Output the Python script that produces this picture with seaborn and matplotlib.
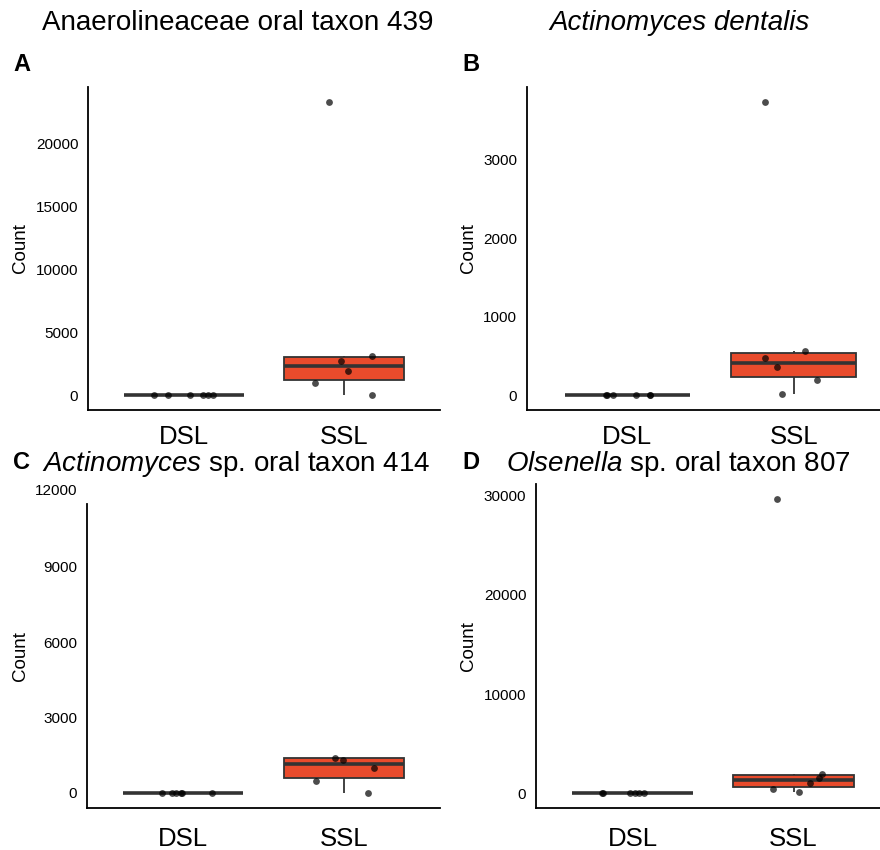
import numpy as np
import pandas as pd
import matplotlib
matplotlib.use("Agg")
import matplotlib.pyplot as plt
from matplotlib.transforms import Bbox, TransformedBbox
import seaborn as sns

# ---- data ----
groups = ["DSL", "SSL"]
letters = ["A", "B", "C", "D"]
titles = [
    "Anaerolineaceae oral taxon 439",
    "Actinomyces dentalis",
    r"$\it{Actinomyces}$ sp. oral taxon 414",
    r"$\it{Olsenella}$ sp. oral taxon 807",
]

# counts per sample
a_dsl = [0, 0, 0, 0, 0, 0]
a_ssl = [23357, 3120, 2750, 1900, 1000, 50]
b_dsl = [0, 0, 0, 0, 0, 0]
b_ssl = [3743, 567, 474, 356, 190, 16]
c_dsl = [0, 0, 0, 0, 0, 0]
c_ssl = [11960, 1395, 1303, 996, 466, 16]   # top point is cropped off in the figure
d_dsl = [0, 0, 0, 0, 0, 0]
d_ssl = [29700, 1913, 1571, 1067, 463, 100]

# horizontal jitter of each point (category units), as seen in the figure
a_dsl_jit = [-0.19, -0.10, 0.04, 0.12, 0.15, 0.18]
a_ssl_jit = [-0.095, 0.175, -0.02, 0.025, -0.18, 0.175]
b_dsl_jit = [-0.125, -0.12, -0.085, 0.055, 0.135, 0.135]
b_ssl_jit = [-0.175, 0.065, -0.17, -0.10, 0.14, -0.07]
c_dsl_jit = [-0.13, -0.07, -0.045, -0.015, -0.005, 0.18]
c_ssl_jit = [0.05, -0.055, -0.007, 0.19, -0.175, 0.153]
d_dsl_jit = [-0.19, -0.185, -0.015, 0.015, 0.04, 0.07]
d_ssl_jit = [-0.10, 0.175, 0.158, 0.10, -0.125, 0.036]

a_ticks = [0, 5000, 10000, 15000, 20000]
b_ticks = [0, 1000, 2000, 3000]
c_ticks = [0, 3000, 6000, 9000]
d_ticks = [0, 10000, 20000, 30000]

panels = [
    (a_dsl, a_ssl, a_dsl_jit, a_ssl_jit, a_ticks),
    (b_dsl, b_ssl, b_dsl_jit, b_ssl_jit, b_ticks),
    (c_dsl, c_ssl, c_dsl_jit, c_ssl_jit, c_ticks),
    (d_dsl, d_ssl, d_dsl_jit, d_ssl_jit, d_ticks),
]

# ---- layout (pixels) ----
W, H = 880, 850
boxes = [(88, 440, 87, 410), (527, 880, 87, 410),
         (87, 440, 504, 808), (536, 880, 484, 808)]
x_right = [1.6, 1.518, 1.6, 1.537]
xlab_pad = [10.5, 10.5, 13.5, 13.5]
title_pos = [(237.5, 30), (679, 30), (236, 471), (678, 471)]
letter_pos = [(13, 71), (462, 71), (13, 469), (462, 469)]
ylab_x = [21, 468, 21, 468]
C_CROP_TOP = 11500  # panel C was cut at the top in the source figure

FILL = "#E94B2C"
EDGE = "#333333"
TXT = "black"

sns.set_style("white")
plt.rcParams["font.family"] = ["Liberation Sans", "DejaVu Sans"]
plt.rcParams["mathtext.fontset"] = "custom"
plt.rcParams["mathtext.rm"] = "Liberation Sans"
plt.rcParams["mathtext.it"] = "Liberation Sans:italic"
plt.rcParams["text.color"] = TXT
plt.rcParams["axes.labelcolor"] = TXT

fig = plt.figure(figsize=(W / 100, H / 100), dpi=100)


def fig_rect(l, r, t, b):
    return [l / W, 1 - b / H, (r - l) / W, (b - t) / H]


for i, (dsl, ssl, dj, sj, ticks) in enumerate(panels):
    ax = fig.add_axes(fig_rect(*boxes[i]))
    df = pd.DataFrame({
        "group": ["DSL"] * len(dsl) + ["SSL"] * len(ssl),
        "count": dsl + ssl,
    })
    sns.boxplot(data=df, x="group", y="count", order=groups, ax=ax,
                color=FILL, saturation=1, linecolor=EDGE, linewidth=1.3,
                width=0.75, showfliers=False, showcaps=False,
                medianprops=dict(linewidth=2.6, color=EDGE))
    pts = pd.DataFrame({
        "pos": [0 + j for j in dj] + [1 + j for j in sj],
        "count": dsl + ssl,
    })
    sns.scatterplot(data=pts, x="pos", y="count", ax=ax, color="black",
                    alpha=0.7, s=24, linewidth=0, zorder=5)

    top = max(dsl + ssl)
    ylo, yhi = -0.05 * top, 1.05 * top
    if i == 2:
        yhi = C_CROP_TOP
    ax.set_ylim(ylo, yhi)
    ax.set_xlim(-0.6, x_right[i])
    ax.set_yticks(ticks)
    ax.set_yticklabels([str(t) for t in ticks])
    ax.set_xlabel("")
    ax.tick_params(axis="both", length=0, colors=TXT)
    ax.tick_params(axis="y", labelsize=11, pad=7)
    ax.tick_params(axis="x", labelsize=18.5, pad=xlab_pad[i])
    for s in ["top", "right"]:
        ax.spines[s].set_visible(False)
    for s in ["left", "bottom"]:
        ax.spines[s].set_color("black")
        ax.spines[s].set_linewidth(1.3)
    ax.set_ylabel("Count", fontsize=13.5, va="center")
    l, r, t, b = boxes[i]
    ax.yaxis.set_label_coords(ylab_x[i] / W, 1 - ((t + b) / 2) / H,
                              transform=fig.transFigure)

    if i == 2:
        # the 12000 label survives above the cropped panel, cut on its right
        lab = ax.annotate("12000", xy=(0, 12000), xycoords=("axes fraction", "data"),
                          xytext=(-7, 0), textcoords="offset points",
                          ha="right", va="center", fontsize=11, color=TXT,
                          annotation_clip=False)
        lab.set_clip_box(TransformedBbox(Bbox([[0, 0], [75.5 / W, 1]]),
                                         fig.transFigure))
        lab.set_clip_on(True)

    tx, ty = title_pos[i]
    fig.text(tx / W, 1 - ty / H, titles[i], fontsize=20, ha="center",
             va="baseline", style="italic" if i == 1 else "normal")
    lx, ly = letter_pos[i]
    fig.text(lx / W, 1 - ly / H, letters[i], fontsize=17, fontweight="bold",
             ha="left", va="baseline")

fig.savefig("out.png", dpi=100)
